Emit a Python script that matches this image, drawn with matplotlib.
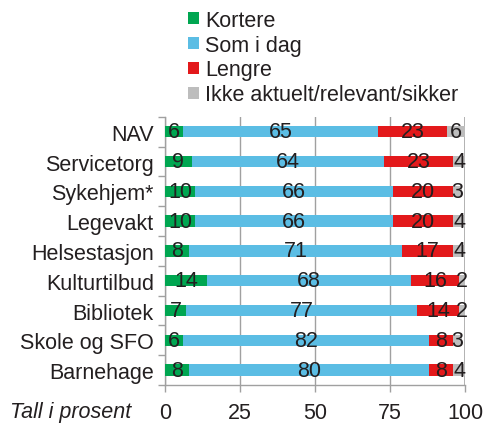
import matplotlib.pyplot as plt
import numpy as np

plt.rcParams['font.family'] = ['Liberation Sans', 'DejaVu Sans']

# Data (top to bottom)
categories = ['NAV', 'Servicetorg', 'Sykehjem*', 'Legevakt', 'Helsestasjon',
              'Kulturtilbud', 'Bibliotek', 'Skole og SFO', 'Barnehage']
kortere = [6, 9, 10, 10, 8, 14, 7, 6, 8]
som_i_dag = [65, 64, 66, 66, 71, 68, 77, 82, 80]
lengre = [23, 23, 20, 20, 17, 16, 14, 8, 8]
ikke_aktuelt = [6, 4, 3, 4, 4, 2, 2, 3, 4]

series_names = ['Kortere', 'Som i dag', 'Lengre', 'Ikke aktuelt/relevant/sikker']
series = [kortere, som_i_dag, lengre, ikke_aktuelt]
colors = ['#00a651', '#5bbde4', '#e3191b', '#bdbdbd']
text_color = '#231f20'
fs = 15.5

fig = plt.figure(figsize=(4.85, 4.27), dpi=100)
ax = fig.add_axes([0.34, 0.096, 0.619, 0.628])

y = np.arange(len(categories))
left = np.zeros(len(categories))
for name, vals, col in zip(series_names, series, colors):
    vals = np.array(vals)
    ax.barh(y, vals, left=left, height=0.38, color=col, label=name, zorder=3)
    for yi, l, v in zip(y, left, vals):
        ax.text(l + v / 2, yi, str(v), ha='center', va='center',
                fontsize=fs, color=text_color, zorder=4)
    left = left + vals

ax.set_xlim(0, 100)
ax.set_ylim(len(categories) - 0.5, -0.5)
ax.set_xticks([0, 25, 50, 75, 100])
ax.set_yticks(y)
ax.set_yticklabels(categories)
ax.set_yticks(np.arange(-0.5, len(categories)), minor=True)
ax.tick_params(axis='y', which='major', length=0, pad=8, labelsize=fs, labelcolor=text_color)
ax.tick_params(axis='y', which='minor', length=5, color='#a0a0a0', width=1)
ax.tick_params(axis='x', length=5, color='#a0a0a0', width=1, pad=7, labelsize=fs, labelcolor=text_color)

ax.grid(axis='x', color='#a0a0a0', linewidth=1, zorder=0)
for s in ['top', 'right']:
    ax.spines[s].set_visible(False)
for s in ['left', 'bottom']:
    ax.spines[s].set_color('#a0a0a0')
    ax.spines[s].set_linewidth(1)
ax.axvline(100, color='#b0b0b0', linewidth=2, zorder=1)

fig.text(0.02, 0.033, 'Tall i prosent', fontsize=fs, style='italic',
         color=text_color, va='center', ha='left')

leg = fig.legend(loc='upper left', bbox_to_anchor=(0.37, 0.995), frameon=False,
                 fontsize=fs, handlelength=0.5, handleheight=0.5,
                 handletextpad=0.3, labelspacing=0.18, borderaxespad=0)
for t in leg.get_texts():
    t.set_color(text_color)

fig.savefig('out.png', dpi=100)
